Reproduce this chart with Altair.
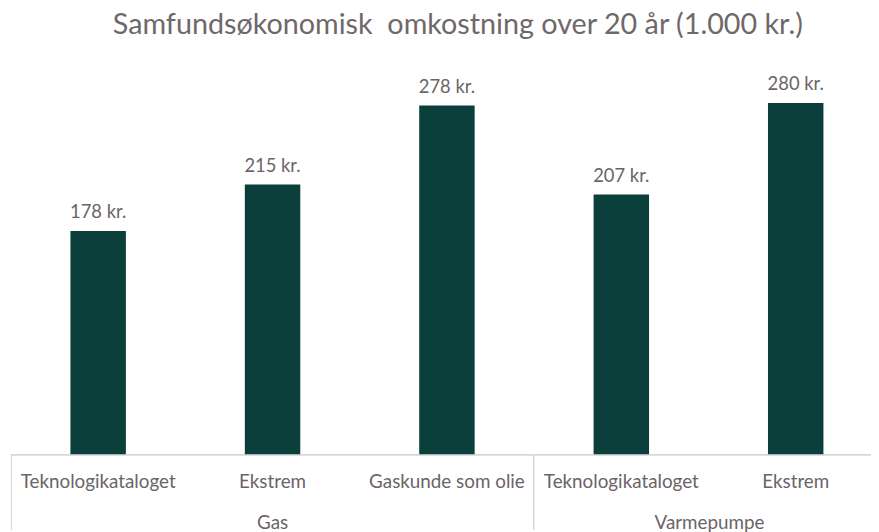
import altair as alt
import pandas as pd

groups = ["Gas", "Gas", "Gas", "Varmepumpe", "Varmepumpe"]
categories = ["Teknologikataloget", "Ekstrem", "Gaskunde som olie", "Teknologikataloget", "Ekstrem"]
values = [178, 215, 278, 207, 280]
group_names = ["Gas", "Varmepumpe"]
title_text = ["Samfundsøkonomisk\u00a0 omkostning over 20 år (1.000 kr.)"]

df = pd.DataFrame({"group": groups, "category": categories, "value": values})
df["key"] = df["group"] + "|" + df["category"]
df["label"] = df["value"].astype(str) + " kr."
keys = list(df["key"])

FONT = "Lato"
TXT = "#6b6467"
BAR = "#0B3F3C"
LINE = "#d9d9d9"
FS = 18.5

xs = alt.Scale(type="band", domain=keys, range=[3, 883], paddingInner=0.682, paddingOuter=0.341)
ys = alt.Scale(domain=[0, 300], range=[448, 68], nice=False, zero=True)

base = alt.Chart(df)

bars = base.mark_bar(color=BAR).encode(
    x=alt.X("key:N", scale=xs, axis=None, sort=keys),
    y=alt.Y("value:Q", scale=ys, axis=None),
)

labels = base.mark_text(font=FONT, fontSize=FS, color=TXT, baseline="alphabetic", dy=-13).encode(
    x=alt.X("key:N", scale=xs, axis=None, sort=keys),
    y=alt.Y("value:Q", scale=ys, axis=None),
    text="label:N",
)

cat_labels = base.mark_text(font=FONT, fontSize=19, color=TXT, baseline="middle").encode(
    x=alt.X("key:N", scale=xs, axis=None, sort=keys),
    y=alt.value(476),
    text="category:N",
)

gdf = pd.DataFrame({"group": group_names})
gas_lbl = alt.Chart(gdf.iloc[[0]]).mark_text(font=FONT, fontSize=19, color=TXT, baseline="alphabetic").encode(
    x=alt.value(267), y=alt.value(523), text="group:N")
vp_lbl = alt.Chart(gdf.iloc[[1]]).mark_text(font=FONT, fontSize=19, color=TXT, baseline="alphabetic").encode(
    x=alt.value(708), y=alt.value(523), text="group:N")

tdf = pd.DataFrame({"t": title_text})
title = alt.Chart(tdf).mark_text(font=FONT, fontSize=29, color="#6f686b", baseline="middle").encode(
    x=alt.value(454), y=alt.value(15), text="t:N")

hline = base.mark_rule(color=LINE, strokeWidth=1).encode(
    x=alt.value(3), x2=alt.value(871), y=alt.value(448.5))
v1 = base.mark_rule(color=LINE, strokeWidth=1).encode(
    x=alt.value(3.5), y=alt.value(448), y2=alt.value(524))
v2 = base.mark_rule(color=LINE, strokeWidth=1).encode(
    x=alt.value(530.5), y=alt.value(448), y2=alt.value(524))

chart = alt.layer(hline, v1, v2, bars, labels, cat_labels, gas_lbl, vp_lbl, title).properties(
    width=871,
    height=524,
    padding=0,
    autosize=alt.AutoSizeParams(type="none"),
).configure_view(stroke=None)

chart.save("out.html", embed_options={"renderer": "svg", "actions": False})
